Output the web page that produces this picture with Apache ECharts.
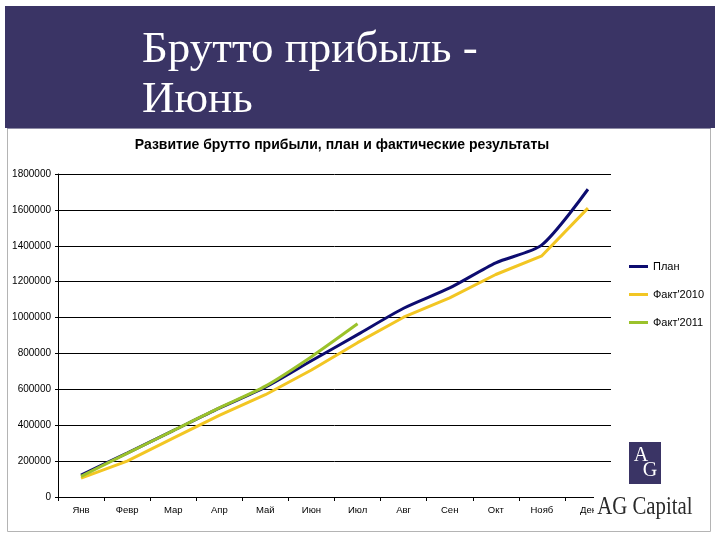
<!DOCTYPE html>
<html>
<head>
<meta charset="utf-8">
<script src="https://cdn.jsdelivr.net/npm/echarts@6/dist/echarts.min.js"></script>
<style>
html,body{margin:0;padding:0;background:#fff;}
#c{width:720px;height:540px;}
</style>
</head>
<body>
<div id="c"></div>
<script>
const categories = ['Янв','Февр','Мар','Апр','Май','Июн','Июл','Авг','Сен','Окт','Нояб','Дек'];
const planValues = [122000, 245000, 370000, 495000, 612000, 759000, 905000, 1052000, 1165000, 1305000, 1405000, 1715000];
const fact2010Values = [105000, 200000, 328000, 455000, 570000, 708000, 860000, 1002000, 1110000, 1240000, 1344000, 1610000];
const fact2011Values = [115000, 243000, 370000, 497000, 618000, 782000, 965000];
const seriesNames = ['План', "Факт'2010", "Факт'2011"];
const yTicks = { min: 0, max: 1800000, interval: 200000 };
const headerLines = ['Брутто прибыль -', 'Июнь'];
const chartTitle = 'Развитие брутто прибыли, план и фактические результаты';

const chart = echarts.init(document.getElementById('c'), null, {renderer: 'canvas'});
const bandColor = '#3a3465';
chart.setOption({
  animation: false,
  backgroundColor: '#ffffff',
  grid: { left: 58, right: 109, top: 174, bottom: 43, containLabel: false },
  legend: {
    orient: 'vertical', left: 624, top: 254,
    itemWidth: 19, itemHeight: 3, itemGap: 13,
    icon: 'rect',
    textStyle: { fontFamily: 'Liberation Sans, Arial', fontSize: 11, color: '#000', lineHeight: 15 },
    data: seriesNames
  },
  xAxis: {
    type: 'category', data: categories, boundaryGap: true,
    axisLine: { lineStyle: { color: '#000', width: 1 } },
    axisTick: { show: true, length: 4, lineStyle: { color: '#000' } },
    axisLabel: { fontFamily: 'Liberation Sans, Arial', fontSize: 9.5, color: '#000', margin: 8, interval: 0 }
  },
  yAxis: {
    type: 'value', min: yTicks.min, max: yTicks.max, interval: yTicks.interval,
    axisLine: { show: true, lineStyle: { color: '#000', width: 1 } },
    axisTick: { show: true, length: 3, lineStyle: { color: '#000' } },
    splitLine: { show: true, lineStyle: { color: '#000', width: 1 } },
    axisLabel: { fontFamily: 'Liberation Sans, Arial', fontSize: 10, color: '#000', margin: 7,
                 formatter: function (v) { return String(v); } }
  },
  series: [
    { name: seriesNames[0], type: 'line', data: planValues, smooth: 0.25, symbol: 'none',
      lineStyle: { color: '#0d0c70', width: 3 }, itemStyle: { color: '#0d0c70' }, z: 3 },
    { name: seriesNames[1], type: 'line', data: fact2010Values, smooth: false, symbol: 'none',
      lineStyle: { color: '#f2c623', width: 3 }, itemStyle: { color: '#f2c623' }, z: 4 },
    { name: seriesNames[2], type: 'line', data: fact2011Values, smooth: 0.25, symbol: 'none',
      lineStyle: { color: '#9bc22b', width: 3 }, itemStyle: { color: '#9bc22b' }, z: 5 }
  ],
  graphic: [
    { type: 'rect', z: -10, shape: { x: 7.5, y: 6.5, width: 703, height: 525 },
      style: { fill: '#fff', stroke: '#b4b4b4', lineWidth: 1 } },
    { type: 'rect', z: -5, shape: { x: 5, y: 6, width: 710, height: 122 }, style: { fill: bandColor } },
    { type: 'line', z: -5, shape: { x1: 7, y1: 128.5, x2: 711, y2: 128.5 }, style: { stroke: '#8e8ca6', lineWidth: 1 } },
    { type: 'text', z: 10, x: 142, y: 50,
      style: { text: headerLines[0], fill: '#fff', font: '45px "Liberation Serif", serif', verticalAlign: 'middle' } },
    { type: 'text', z: 10, x: 142, y: 100,
      style: { text: headerLines[1], fill: '#fff', font: '45px "Liberation Serif", serif', verticalAlign: 'middle' } },
    { type: 'text', z: 10, x: 342, y: 145,
      style: { text: chartTitle, fill: '#000', font: 'bold 14px "Liberation Sans", Arial', align: 'center', verticalAlign: 'middle' } },
    { type: 'rect', z: 100, shape: { x: 629, y: 442, width: 32, height: 42 }, style: { fill: bandColor } },
    { type: 'text', z: 101, x: 641, y: 456,
      style: { text: 'A', fill: '#fff', font: '20px "Liberation Serif", serif', align: 'center', verticalAlign: 'middle' } },
    { type: 'text', z: 101, x: 650, y: 471,
      style: { text: 'G', fill: '#fff', font: '20px "Liberation Serif", serif', align: 'center', verticalAlign: 'middle' } },
    { type: 'text', z: 100, x: 594, y: 507, scaleX: 0.8,
      style: { text: 'AG Capital', fill: '#2a2a2a', font: '26px "Liberation Serif", serif', verticalAlign: 'middle',
               backgroundColor: '#fff', padding: [0, 0, 0, 4] } }
  ]
});
</script>
</body>
</html>
